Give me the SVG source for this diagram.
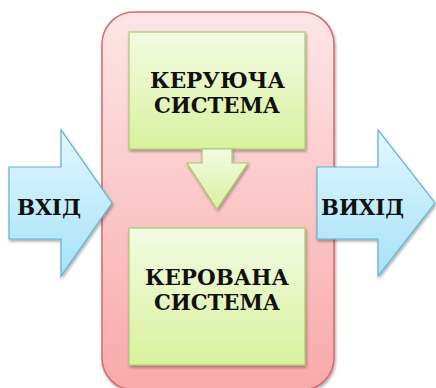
<svg xmlns="http://www.w3.org/2000/svg" width="436" height="388" viewBox="0 0 436 388">
<defs>
<linearGradient id="gRed" x1="0" y1="0" x2="0" y2="1"><stop offset="0" stop-color="#fde6e6"/><stop offset="1" stop-color="#f9a9a9"/></linearGradient>
<linearGradient id="gGreen" x1="0" y1="0" x2="0" y2="1"><stop offset="0" stop-color="#f3fbe3"/><stop offset="1" stop-color="#d9f19e"/></linearGradient>
<linearGradient id="gBlue" x1="0" y1="0" x2="0" y2="1"><stop offset="0" stop-color="#e3f7ff"/><stop offset="1" stop-color="#a6e2f7"/></linearGradient>
<filter id="sh" x="-10%" y="-10%" width="120%" height="120%"><feGaussianBlur in="SourceAlpha" stdDeviation="1.5"/><feOffset dx="1" dy="2"/><feComponentTransfer><feFuncA type="linear" slope="0.35"/></feComponentTransfer><feMerge><feMergeNode/><feMergeNode in="SourceGraphic"/></feMerge></filter>
</defs>
<style>
.t{font-family:"DejaVu Serif","Liberation Serif",serif;font-weight:bold;font-size:22px;fill:#111;text-anchor:middle}
.red{fill:url(#gRed);stroke:#d46a6a;stroke-width:1.5}
.grn{fill:url(#gGreen);stroke:#a8cc6a;stroke-width:1.2}
.blu{fill:url(#gBlue);stroke:#5fb3cf;stroke-width:1.2}
</style>
<rect width="436" height="388" fill="#ffffff"/>
<g id="system">
<rect class="red" x="102" y="12" width="232" height="378" rx="32" ry="32" filter="url(#sh)"/>
</g>
<g id="input">
<path class="blu" d="M9,167 H61 V130 L112,203 L61,276 V239 H9 Z" filter="url(#sh)"/>
<text class="t" x="49" y="215" textLength="64" lengthAdjust="spacingAndGlyphs">ВХІД</text>
</g>
<g id="output">
<path class="blu" d="M317,167 H378 V130 L435,203 L378,276 V239 H317 Z" filter="url(#sh)"/>
<text class="t" x="362.5" y="215" textLength="83" lengthAdjust="spacingAndGlyphs">ВИХІД</text>
</g>
<g id="controlling">
<rect class="grn" x="129" y="32" width="176" height="117" filter="url(#sh)"/>
<text class="t" x="217.5" y="88" textLength="135" lengthAdjust="spacingAndGlyphs">КЕРУЮЧА</text>
<text class="t" x="217" y="113" textLength="126" lengthAdjust="spacingAndGlyphs">СИСТЕМА</text>
</g>
<g id="connectors">
<path class="grn" d="M202,149 H232 V163 H248 L217,209 L187,163 H202 Z" filter="url(#sh)"/>
</g>
<g id="controlled">
<rect class="grn" x="129" y="228" width="176" height="137" filter="url(#sh)"/>
<text class="t" x="217" y="285" textLength="144" lengthAdjust="spacingAndGlyphs">КЕРОВАНА</text>
<text class="t" x="217" y="310" textLength="126" lengthAdjust="spacingAndGlyphs">СИСТЕМА</text>
</g>
</svg>
